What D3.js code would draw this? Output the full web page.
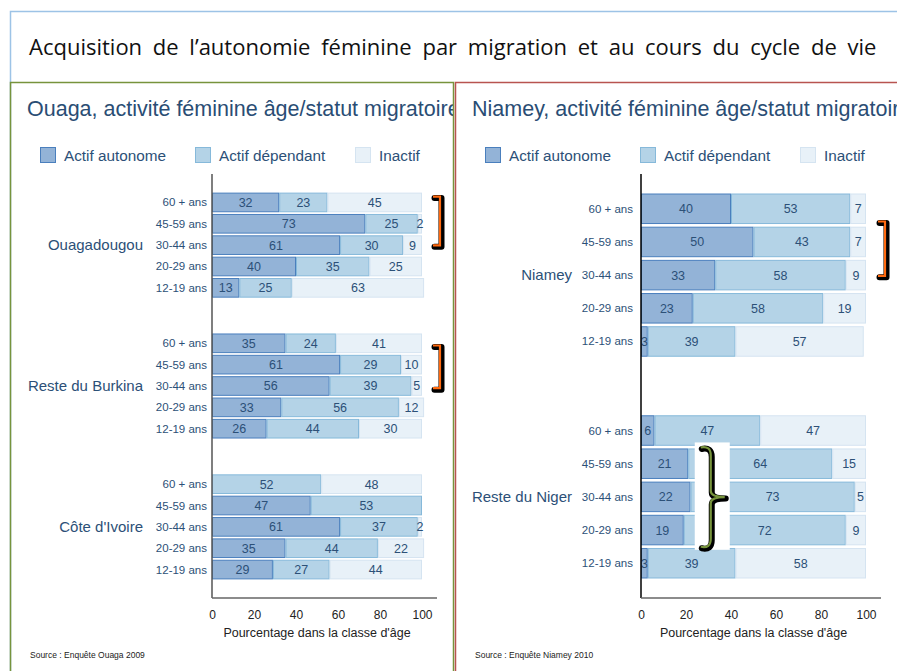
<!DOCTYPE html>
<html>

<head>
    <title>Autonomie feminine</title>
    <script src="https://cdnjs.cloudflare.com/ajax/libs/d3/7.8.5/d3.min.js" type="text/JavaScript"></script>
    <style>
        body { margin: 0; background: #fff; }
        svg { display: block; }
    </style>
</head>

<body>
    <svg id="chart" width="897" height="671"></svg>
    <script>
        // valeurs : [autonome, dependant, inactif] par classe d'age
        var ages = ["60 + ans", "45-59 ans", "30-44 ans", "20-29 ans", "12-19 ans"]
        var statuts = ["Actif autonome", "Actif dépendant", "Inactif"]
        var ticks = [0, 20, 40, 60, 80, 100]

        var ouagaGroupes = ["Ouagadougou", "Reste du Burkina", "Côte d'Ivoire"]
        var ouagadougou = [[32, 23, 45], [73, 25, 2], [61, 30, 9], [40, 35, 25], [13, 25, 63]]
        var resteBurkina = [[35, 24, 41], [61, 29, 10], [56, 39, 5], [33, 56, 12], [26, 44, 30]]
        var coteIvoire = [[0, 52, 48], [47, 53, 0], [61, 37, 2], [35, 44, 22], [29, 27, 44]]

        var niameyGroupes = ["Niamey", "Reste du Niger"]
        var niamey = [[40, 53, 7], [50, 43, 7], [33, 58, 9], [23, 58, 19], [3, 39, 57]]
        var resteNiger = [[6, 47, 47], [21, 64, 15], [22, 73, 5], [19, 72, 9], [3, 39, 58]]

        var fills = ["#93b3d7", "#b4d3e7", "#e8f1f8"]
        var strokes = ["#4a7fbd", "#86b9da", "#d5e4f1"]
        var textColor = "#2c5077"
        var font = "'Liberation Sans', Arial, sans-serif"

        var svg = d3.select("#chart")

        // cadre general + titre
        svg.append("rect")
            .attr("x", 10.5).attr("y", 11.5).attr("width", 900).attr("height", 700)
            .style("fill", "none").style("stroke", "#9dc3e6").style("stroke-width", "1.5px")

        svg.append("text")
            .attr("x", 29).attr("y", 55)
            .style("font-family", "'Open Sans', sans-serif")
            .style("font-size", "22px")
            .style("word-spacing", "5px")
            .style("fill", "#111")
            .text("Acquisition de l’autonomie féminine par migration et au cours du cycle de vie")

        function panel(cfg) {
            var g = svg.append("g").attr("transform", `translate(${cfg.left},82)`)

            g.append("clipPath").attr("id", cfg.id)
                .append("rect").attr("x", 0).attr("y", 0).attr("width", cfg.width).attr("height", 600)

            var inner = g.append("g").attr("clip-path", `url(#${cfg.id})`)

            inner.append("text")
                .attr("x", 17).attr("y", 34)
                .style("font-family", font).style("font-size", "21.5px")
                .style("fill", "#2a4d74")
                .text(cfg.title)

            // legende
            var leg = inner.selectAll("g.leg").data(statuts).enter().append("g")
                .attr("class", "leg")
                .attr("transform", (d, i) => `translate(${[30, 185, 345][i]},65)`)
            leg.append("rect")
                .attr("x", 0.5).attr("y", 0.5).attr("width", 15).attr("height", 15)
                .style("fill", (d, i) => fills[i]).style("stroke", (d, i) => strokes[i])
            leg.append("text")
                .attr("x", 24).attr("y", 14)
                .style("font-family", font).style("font-size", "15.3px").style("fill", textColor)
                .text(d => d)

            var x = d3.scaleLinear().domain([0, 100]).range(cfg.xRange)
            var yG = d3.scaleBand().domain(cfg.groupes).range([92, 516])
                .paddingInner(cfg.padInner).paddingOuter(cfg.padOuter)
            var yA = d3.scaleBand().domain(ages).range([0, yG.bandwidth()]).padding(0.08)

            var rows = []
            cfg.groupes.forEach((grp, gi) => {
                cfg.values[gi].forEach((vals, ai) => {
                    var x0 = 0
                    vals.forEach((v, si) => {
                        rows.push({ groupe: grp, age: ages[ai], s: si, v: v, x0: x0, x1: x0 + v })
                        x0 += v
                    })
                })
            })

            var gg = inner.selectAll("g.grp").data(cfg.groupes).enter().append("g")
                .attr("class", "grp")
                .attr("transform", d => `translate(0,${yG(d)})`)

            gg.append("text")
                .attr("x", cfg.groupX).attr("y", yG.bandwidth() / 2 + 5)
                .style("text-anchor", "end")
                .style("font-family", font).style("font-size", "15px").style("fill", textColor)
                .text(d => d)

            gg.selectAll("text.age").data(ages).enter().append("text")
                .attr("class", "age")
                .attr("x", cfg.ageX).attr("y", d => yA(d) + yA.bandwidth() / 2 + 4)
                .style("text-anchor", "end")
                .style("font-family", font).style("font-size", "11.5px").style("fill", textColor)
                .text(d => d)

            var seg = inner.selectAll("g.seg").data(rows.filter(d => d.v > 0)).enter().append("g")
                .attr("class", "seg")
                .attr("transform", d => `translate(0,${yG(d.groupe) + yA(d.age)})`)

            seg.append("rect")
                .attr("x", d => x(d.x0) + 0.5)
                .attr("y", 0.5)
                .attr("width", d => Math.max(0, x(d.x1) - x(d.x0) - 1))
                .attr("height", yA.bandwidth() - 1)
                .style("fill", d => fills[d.s])
                .style("stroke", d => strokes[d.s])
                .style("stroke-width", "1px")

            seg.append("text")
                .attr("x", d => x((d.x0 + d.x1) / 2))
                .attr("y", yA.bandwidth() / 2 + 4.5)
                .style("text-anchor", "middle")
                .style("font-family", font).style("font-size", "12.5px").style("fill", textColor)
                .text(d => d.v)

            // axes
            inner.append("line")
                .attr("x1", x(0)).attr("x2", x(0)).attr("y1", 92).attr("y2", 516)
                .style("stroke", cfg.yAxisColor).style("stroke-width", "1.5px")
            inner.append("line")
                .attr("x1", x(0)).attr("x2", x(100) + 15).attr("y1", 516).attr("y2", 516)
                .style("stroke", "#666").style("stroke-width", "1.5px")

            var ax = inner.append("g").attr("transform", "translate(0,516)")
                .call(d3.axisBottom(x).tickValues(ticks).tickSize(0).tickPadding(12))
            ax.select(".domain").remove()
            ax.selectAll("text")
                .style("font-family", font).style("font-size", "12px").style("fill", "#222")

            inner.append("text")
                .attr("x", (x(0) + x(100)) / 2).attr("y", 555)
                .style("text-anchor", "middle")
                .style("font-family", font).style("font-size", "12.5px").style("fill", "#222")
                .text("Pourcentage dans la classe d'âge")

            inner.append("text")
                .attr("x", 20).attr("y", 576)
                .style("font-family", font).style("font-size", "8.5px").style("fill", "#222")
                .text(cfg.source)

            // accolades
            cfg.brackets.forEach(b => {
                var top = yG(cfg.groupes[b.groupe]) + yA(ages[b.from]) + b.dy0
                var bot = yG(cfg.groupes[b.groupe]) + yA(ages[b.to]) + b.dy1
                var bx = x(100) + b.dx
                var p = `M${bx - 7},${top} L${bx},${top} L${bx},${bot} L${bx - 7},${bot}`
                inner.append("path").attr("d", p).attr("transform", "translate(1.5,1.5)")
                    .style("fill", "none").style("stroke", "#000").style("stroke-width", "6px")
                    .style("stroke-linejoin", "round").style("stroke-linecap", "round")
                inner.append("path").attr("d", p)
                    .style("fill", "none").style("stroke", "#ff6a10").style("stroke-width", "2.2px")
            })

            if (cfg.brace) {
                var b = cfg.brace
                var top = yG(cfg.groupes[b.groupe]) + yA(ages[b.from]) + b.dy0
                var bot = yG(cfg.groupes[b.groupe]) + yA(ages[b.to]) + b.dy1
                var bx = x(b.at)
                var mid = (top + bot) / 2
                inner.append("rect")
                    .attr("x", bx - 16).attr("y", top - 5).attr("width", 35).attr("height", bot - top + 8)
                    .style("fill", "#fff")
                var p = `M${bx - 10},${top} Q${bx},${top - 2} ${bx},${top + 8} L${bx},${mid - 6} Q${bx},${mid} ${bx + 14},${mid}` +
                    ` Q${bx},${mid} ${bx},${mid + 6} L${bx},${bot - 8} Q${bx},${bot + 2} ${bx - 10},${bot}`
                inner.append("path").attr("d", p).attr("transform", "translate(1,1.5)")
                    .style("fill", "none").style("stroke", "#000").style("stroke-width", "6px")
                    .style("stroke-linejoin", "round").style("stroke-linecap", "round")
                inner.append("path").attr("d", p)
                    .style("fill", "none").style("stroke", "#77943c").style("stroke-width", "2.2px")
            }

            // bordure du panneau
            g.append("rect")
                .attr("x", 0.5).attr("y", 0.5).attr("width", cfg.width - 1).attr("height", 640)
                .style("fill", "none").style("stroke", cfg.border).style("stroke-width", "1.5px")
        }

        panel({
            id: "clipOuaga", left: 10, width: 444, border: "#77933c",
            title: "Ouaga, activité féminine âge/statut migratoire",
            groupes: ouagaGroupes, values: [ouagadougou, resteBurkina, coteIvoire],
            xRange: [202, 412], padInner: 0.23, padOuter: 0.12,
            groupX: 133, ageX: 197, yAxisColor: "#555",
            source: "Source : Enquête Ouaga 2009",
            brackets: [
                { groupe: 0, from: 0, to: 2, dy0: 4, dy1: 10, dx: 18 },
                { groupe: 1, from: 0, to: 2, dy0: 12, dy1: 12, dx: 18 }
            ]
        })

        panel({
            id: "clipNiamey", left: 455, width: 460, border: "#b85450",
            title: "Niamey, activité féminine âge/statut migratoire",
            groupes: niameyGroupes, values: [niamey, resteNiger],
            xRange: [186, 411], padInner: 0.24, padOuter: 0.076,
            groupX: 117, ageX: 178, yAxisColor: "#000",
            source: "Source : Enquête Niamey 2010",
            brackets: [
                { groupe: 0, from: 0, to: 2, dy0: 28, dy1: 16, dx: 19 }
            ],
            brace: { groupe: 1, from: 1, to: 3, dy0: -1, dy1: 32, at: 31 }
        })
    </script>
</body>

</html>
